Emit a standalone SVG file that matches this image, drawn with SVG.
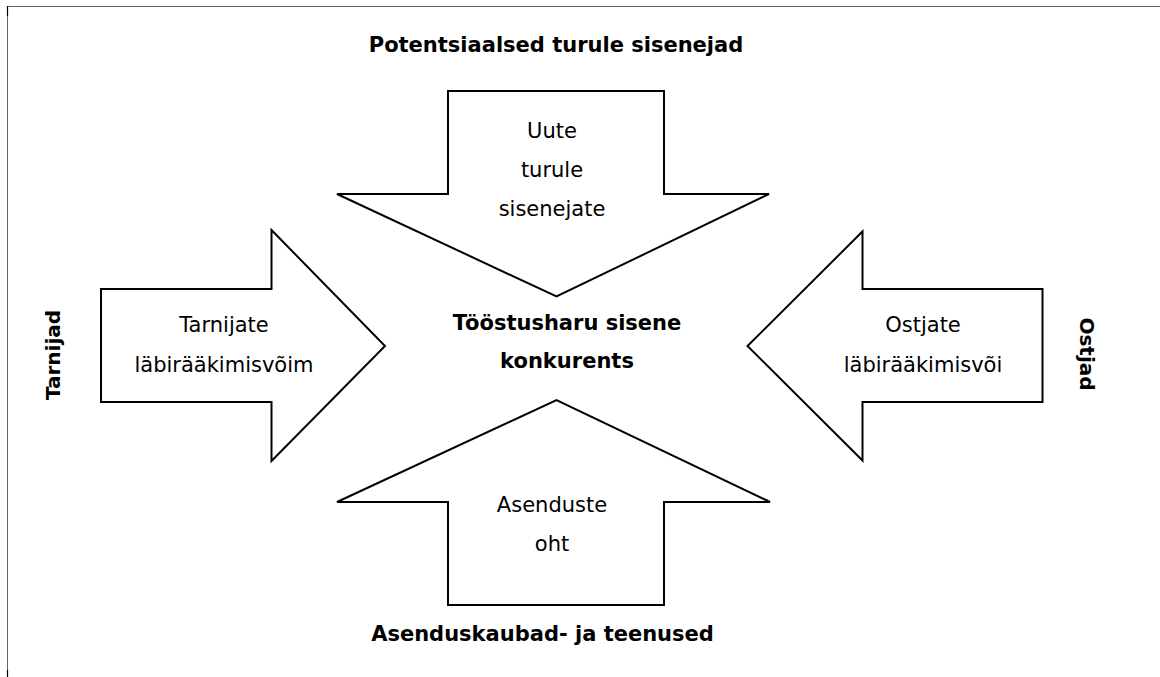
<svg xmlns="http://www.w3.org/2000/svg" width="1160" height="677" viewBox="0 0 1160 677">
  <style>
    .arrow { fill: #ffffff; stroke: #000000; stroke-width: 2; stroke-linejoin: miter; }
    .lbl { font-family: "DejaVu Sans", Verdana, sans-serif; font-size: 21px; fill: #000000; text-anchor: middle; }
    .bold { font-weight: bold; }
    .side { font-family: "DejaVu Sans", Verdana, sans-serif; font-size: 20px; font-weight: bold; fill: #000000; text-anchor: middle; }
  </style>
  <rect x="0" y="0" width="1160" height="677" fill="#ffffff"/>
  <g id="frame">
    <path d="M7.5 677 L7.5 6.5 L1160 6.5" fill="none" stroke="#666666" stroke-width="1"/>
    <path d="M7.5 6 L7.5 16" stroke="#000000" stroke-width="1.2"/>
    <path d="M7.5 670 L7.5 677" stroke="#000000" stroke-width="1.2"/>
  </g>
  <g id="connectors">
    <g id="arrow-top">
      <polygon class="arrow" points="448,91 664,91 664,194 769,194 556.5,296.5 337,194 448,194"/>
    </g>
    <g id="arrow-bottom">
      <polygon class="arrow" points="448,605 664,605 664,502 770,502 556.5,400 337,502 448,502"/>
    </g>
    <g id="arrow-left">
      <polygon class="arrow" points="101,289 271.5,289 271.5,230 385,346 271.5,461 271.5,402 101,402"/>
    </g>
    <g id="arrow-right">
      <polygon class="arrow" points="1042.5,289 862.5,289 862.5,231.5 747.5,346 862.5,460.5 862.5,402 1042.5,402"/>
    </g>
  </g>
  <g id="node-potential">
    <text class="lbl bold" x="556" y="52">Potentsiaalsed turule sisenejad</text>
  </g>
  <g id="node-new-entrants">
    <text class="lbl" x="552" y="138">Uute</text>
    <text class="lbl" x="552" y="177">turule</text>
    <text class="lbl" x="552" y="216">sisenejate</text>
  </g>
  <g id="node-rivalry">
    <text class="lbl bold" x="567" y="330">Tööstusharu sisene</text>
    <text class="lbl bold" x="567" y="368">konkurents</text>
  </g>
  <g id="node-substitutes-threat">
    <text class="lbl" x="552" y="512">Asenduste</text>
    <text class="lbl" x="552" y="551">oht</text>
  </g>
  <g id="node-substitutes">
    <text class="lbl bold" x="542.5" y="641">Asenduskaubad- ja teenused</text>
  </g>
  <g id="node-supplier-power">
    <text class="lbl" x="224" y="332">Tarnijate</text>
    <text class="lbl" x="224" y="372">läbirääkimisvõim</text>
  </g>
  <g id="node-buyer-power">
    <text class="lbl" x="923" y="332">Ostjate</text>
    <text class="lbl" x="923" y="372">läbirääkimisvõi</text>
  </g>
  <g id="node-suppliers">
    <text class="side" transform="translate(60,355) rotate(-90)">Tarnijad</text>
  </g>
  <g id="node-buyers">
    <text class="side" transform="translate(1080,354) rotate(90)">Ostjad</text>
  </g>
</svg>
